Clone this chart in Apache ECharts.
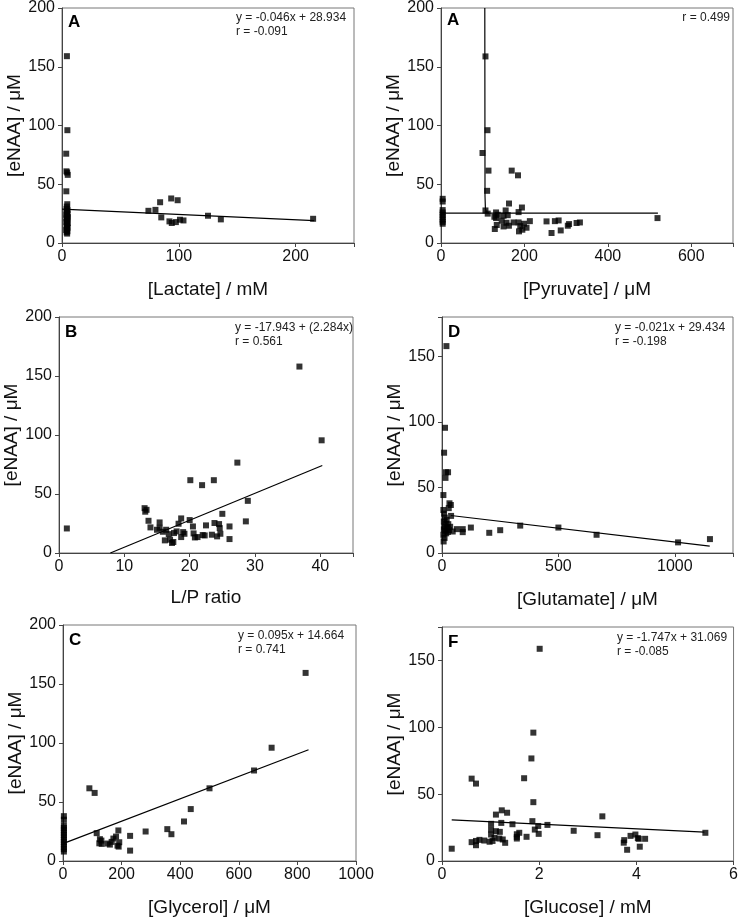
<!DOCTYPE html>
<html><head><meta charset="utf-8">
<script src="https://cdn.jsdelivr.net/npm/echarts@6/dist/echarts.min.js"></script>
<style>html,body{margin:0;padding:0;background:#fff}#c{width:741px;height:918px}</style>
</head><body><div id="c"></div>
<script>
// ---------- DATA ----------
// Panel A: [Lactate] / mM vs [eNAA] / µM
const lactatePts = [[4.2,159],[4.6,96],[3.6,76],[3.8,61],[4.4,60],[4.9,58],[3.7,44],[4.5,33],[4.1,31],[3.9,29],[4.8,28],[4.3,27],[4.0,26],[4.7,25],[3.6,24],[4.4,23],[5.0,22],[3.8,21],[4.6,20],[4.2,19],[3.7,18],[4.9,17],[4.1,16],[4.5,15],[3.9,14],[4.8,13],[4.3,12],[3.6,11],[4.6,10],[4.0,9],[4.4,8],
  [74,27.4],[80,28.2],[84,34.7],[85,21.8],[93.5,37.9],[99,36.4],[92,18.4],[94,17],[97.5,17.8],[101,19.8],[104,19.2],[125,23.2],[136,20.1],[215,20.6]];
const lactateFit = [[0,28.9],[216,19]];
// Panel A (pyruvate): [Pyruvate] / µM
const pyruvatePts = [[4,37.6],[4,35.3],[4,28],[4,26],[4,24],[4,22],[4,20],[4,18],[4,16.4],
  [106.6,158.8],[111.4,96],[99.5,76.6],[113.8,61.6],[110.6,44.4],[106.6,27.7],[112,25],[169.5,61.6],[184.6,57.6],[163,33.6],[194,30.2],[186,26.3],[155,27.7],[132,26],[136,24],[128,22.3],[132,21.2],[150,23.2],[160,23.7],[145.6,19],[129,11.9],[133.7,15.3],[150,14.1],[157,17.2],[162.8,14.7],[174,17.5],[186,17.5],[190,14.4],[187,9.9],[199,16.4],[205,13],[213,18.6],[195,11.3],[253,18.4],[273,18.6],[282,19.2],[265,8.5],[287,10.7],[304,14.7],[307,16.1],[325,17],[333,17.5],[519,21.2]];
const pyruvateFitV = [[105,200],[105.5,40],[106.5,29],[109,26],[115,25.4]];
const pyruvateFitH = [[0,25.4],[520,25.4]];
// Panel B: L/P ratio
const lpPts = [[1.2,20.8],[36.8,158],[40.2,95.5],[27.3,76.6],[20.1,61.7],[21.9,57.5],[23.7,61.7],[28.9,44.2],[28.6,26.8],[25.0,33.2],
  [13.1,38],[13.4,36.6],[13.2,35],[13.7,27.3],[14,21.7],[15,19.7],[15.4,25.9],[15.4,21.4],[15.9,18],[16.4,19.7],[16.2,10.7],[16.8,16],[17,11.3],[17.3,8.5],[17.5,9.3],[17.6,16.9],[18,18.3],[18.3,24.8],[18.7,29.3],[18.7,13.5],[19,17.7],[19.2,16.3],[20,27.9],[20.5,22.5],[20.6,16.6],[20.8,13.2],[21.2,13.5],[22,15.2],[22.3,14.9],[22.5,23.4],[23.4,15.5],[23.8,25.4],[24.2,14.1],[24.5,24.5],[24.6,21.1],[24.7,16.3],[26.1,22.5],[26.1,11.8]];
const lpFit = [[7.86,0],[40.3,74.1]];
// Panel D: [Glutamate] / µM
const glutamatePts = [[19,157.8],[13,95.5],[9,76.5],[17,61.6],[26,61.6],[15,57.3],[6,44.2],[32,37.9],[38,36.6],[29,34.2],[6,32.8],[39,28.3],
  [9,30],[12,27],[20,25.3],[8,24],[16,22.2],[27,22],[10,20],[22,19.5],[35,20],[8,18],[14,17],[30,17.5],[18,15],[6,13.9],[11,11.5],[7,8.8],[25,16],
  [64,18.2],[89,18.2],[89,15.9],[46,16.4],[124,19.4],[203,15.4],[250,17.4],[336,20.9],[500,19.4],[664,13.9],[1014,8.1],[1151,10.6]];
const glutamateFit = [[38,28.6],[1150,5.3]];
// Panel C: [Glycerol] / µM
const glycerolPts = [[828,159.4],[712,96],[652,76.7],[500,61.6],[436,44],[413,33.5],[356,27],[370,22.7],[282,25],[229,21.3],[229,8.8],[189,25.9],[181,20.7],[172,19],[166,16.2],[160,13.9],[152,14.8],[192,15.9],[186,13],[190,12.2],[132,14.5],[124,15],[126,18.5],[131,17.3],[115,23.6],[90,61.6],[108,57.7],
  [3,38],[3,35],[3,30],[3,28],[3,26],[3,24],[3,22],[3,20],[3,18],[3,16],[3,14],[3,12],[3,10],[3,8]];
const glycerolFit = [[0,14.7],[838,94.3]];
// Panel F: [Glucose] / mM
const glucosePts = [[2.01,158.7],[1.88,96],[1.84,76.7],[1.69,61.9],[0.61,61.6],[0.70,57.9],[1.88,44],[1.23,37.9],[1.34,36.1],[1.11,34.7],[3.30,33.4],[1.86,29.8],[1.01,27.8],[1.22,28.5],[1.45,27.5],[1.98,26.2],[2.17,27],[1.91,23.5],[1.01,23.5],[1.11,22.3],[1.19,21.8],[2.71,22.6],[1.99,20.3],[1.59,21.1],[1.54,20],[3.20,19.3],[1.54,18],[1.54,16.8],[1.74,18.1],[1.01,19.8],[1.08,17.3],[1.18,16.8],[1.25,16.1],[1.30,13.6],[0.61,14.1],[0.70,15],[0.70,11.8],[0.77,15.8],[0.87,15.3],[0.98,14.4],[1.04,15],[0.2,9.2],
  [3.75,15.6],[3.74,13.7],[3.81,8.4],[3.88,18.8],[3.98,19.8],[4.03,17.1],[4.05,16.6],[4.07,10.7],[4.18,16.6],[5.42,21.1]];
const glucoseFit = [[0.2,30.7],[5.4,21.6]];

const xNames = ['[Lactate] / mM','[Pyruvate] / \u03BCM','L/P ratio','[Glutamate] / \u03BCM','[Glycerol] / \u03BCM','[Glucose] / mM'];
const yName = '[eNAA] / \u03BCM';
const xMax = [250,700,45,1250,1000,6];
const xInterval = [100,200,10,500,200,2];
const yMax = [200,200,200,180,200,175];
const panelLabels = ['A','A','B','D','C','F'];
const eqText = [['y = -0.046x + 28.934','r = -0.091'],['r = 0.499'],['y = -17.943 + (2.284x)','r = 0.561'],['y = -0.021x + 29.434','r = -0.198'],['y = 0.095x + 14.664','r = 0.741'],['y = -1.747x + 31.069','r = -0.085']];

// ---------- LAYOUT ----------
const grids = [
  {left:62, top:7, width:292, height:236},
  {left:441, top:7, width:292, height:236},
  {left:59, top:317, width:294, height:236},
  {left:442, top:317, width:291, height:236},
  {left:63, top:625, width:293, height:236},
  {left:442, top:627, width:293, height:235}
];
const FONT = '"Liberation Sans", Arial, sans-serif';
const pts = [lactatePts,pyruvatePts,lpPts,glutamatePts,glycerolPts,glucosePts];
const fits = [[lactateFit],[pyruvateFitV,pyruvateFitH],[lpFit],[glutamateFit],[glycerolFit],[glucoseFit]];

const option = {
  animation:false,
  backgroundColor:'#fff',
  grid: grids.map(g=>Object.assign({show:true,borderColor:'#777',borderWidth:1,backgroundColor:'transparent'},g)),
  xAxis: grids.map((g,i)=>({
    gridIndex:i,type:'value',min:0,max:xMax[i],interval:xInterval[i],
    name:xNames[i],nameLocation:'middle',nameGap:i===2?35:37,
    nameTextStyle:{fontFamily:FONT,fontSize:19,color:'#111'},
    axisLine:{show:true,lineStyle:{color:'#444',width:1}},
    axisTick:{show:true,length:4,inside:false,lineStyle:{color:'#444'}},
    axisLabel:{fontFamily:FONT,fontSize:16,color:'#111',margin:6,
      formatter:(v)=> (Math.abs(v/xInterval[i]-Math.round(v/xInterval[i]))<1e-9)? String(v):''},
    splitLine:{show:false}
  })),
  yAxis: grids.map((g,i)=>({
    gridIndex:i,type:'value',min:0,max:yMax[i],interval:50,
    name:yName,nameLocation:'middle',nameGap:37,
    nameTextStyle:{fontFamily:FONT,fontSize:19,color:'#111'},
    axisLine:{show:true,lineStyle:{color:'#444',width:1}},
    axisTick:{show:true,length:4,inside:false,lineStyle:{color:'#444'}},
    axisLabel:{fontFamily:FONT,fontSize:16,color:'#111',margin:7,
      formatter:(v)=> (v%50===0)? String(v):''},
    splitLine:{show:false}
  })),
  series: [],
  graphic: []
};
pts.forEach((p,i)=>{
  option.series.push({type:'scatter',xAxisIndex:i,yAxisIndex:i,data:p,symbol:'rect',symbolSize:6,
    itemStyle:{color:'#000'},z:3});
  fits[i].forEach(f=>{
    option.series.push({type:'line',xAxisIndex:i,yAxisIndex:i,data:f,symbol:'none',
      lineStyle:{color:'#000',width:1.2},z:2});
  });
  const g = grids[i];
  option.graphic.push({type:'text',left:g.left+6,top:g.top+(i===1?5:7),
    style:{text:panelLabels[i],fontFamily:FONT,fontSize:17,fontWeight:'bold',fill:'#000'}});
  const lines = eqText[i];
  if(i===1){
    option.graphic.push({type:'text',right:741-(g.left+g.width)+3,top:g.top+4,
      style:{text:lines.join('\n'),fontFamily:FONT,fontSize:12,lineHeight:14,fill:'#222',align:'right'}});
  } else {
    option.graphic.push({type:'text',left:g.left+g.width-118,top:g.top+4,
      style:{text:lines.join('\n'),fontFamily:FONT,fontSize:12,lineHeight:14,fill:'#222'}});
  }
});
const chart = echarts.init(document.getElementById('c'),null,{renderer:'canvas'});
chart.setOption(option);
</script></body></html>
